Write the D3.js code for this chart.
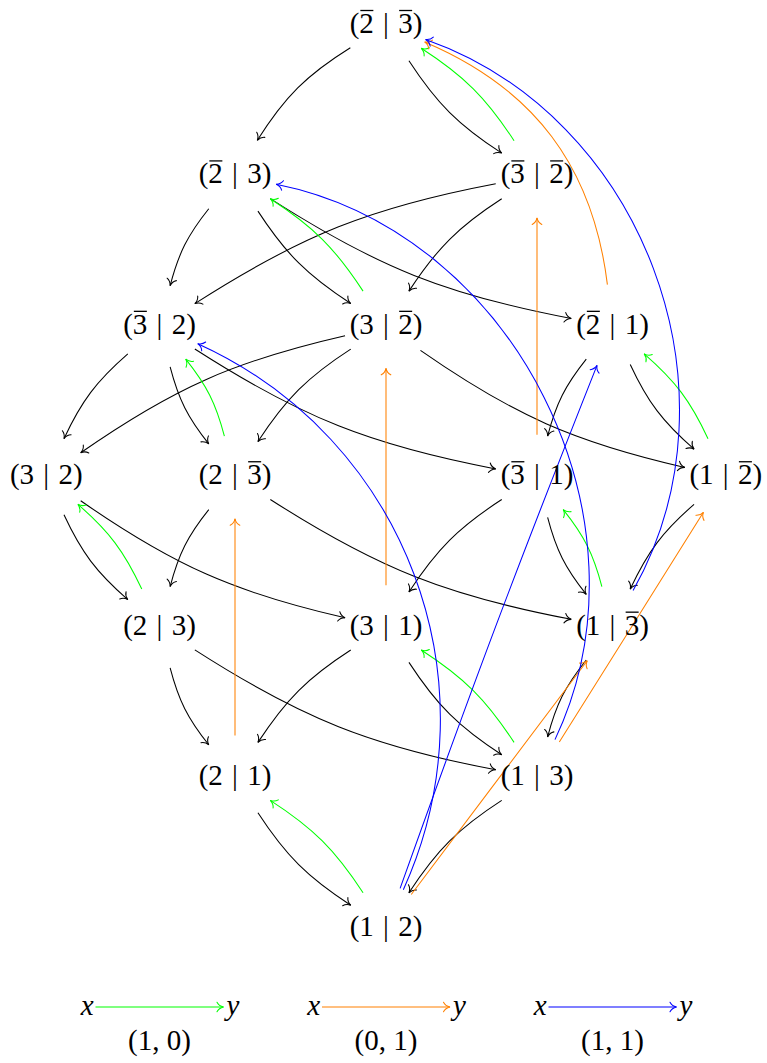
<!DOCTYPE html>
<html>
<head>
<meta charset="utf-8">
<script src="https://cdn.jsdelivr.net/npm/d3@7"></script>
<style>
  body { margin: 0; background: #fff; }
  text { font-family: "Liberation Serif", "DejaVu Serif", serif; }
</style>
</head>
<body>
<svg id="chart" width="767" height="1063"></svg>
<script>
// nodes of the lattice: label, column, row  (\u0304 = bar over the digit before it)
var nodeLabels = ["(2\u0304 | 3\u0304)", "(2\u0304 | 3)", "(3\u0304 | 2\u0304)", "(3\u0304 | 2)",
                  "(3 | 2\u0304)", "(2\u0304 | 1)", "(3 | 2)", "(2 | 3\u0304)", "(3\u0304 | 1)",
                  "(1 | 2\u0304)", "(2 | 3)", "(3 | 1)", "(1 | 3\u0304)", "(2 | 1)", "(1 | 3)", "(1 | 2)"];
var nodeCols = [0, -2, 2, -3, 0, 3, -4.5, -2, 2, 4.5, -3, 0, 3, -2, 2, 0];
var nodeRows = [0, 1, 1, 2, 2, 2, 3, 3, 3, 3, 4, 4, 4, 5, 5, 6];

// edges as [from, to, bend right (degrees)]
var blackEdges = [
  [0, 1, 13], [0, 2, 12], [2, 3, 11], [2, 4, 12], [1, 3, 12], [1, 4, 12], [1, 5, 11],
  [3, 6, 12], [3, 7, 12], [3, 8, 11], [4, 6, 11], [4, 7, 12], [4, 9, 11], [5, 8, 12],
  [5, 9, 12], [6, 10, 12], [6, 11, 11], [7, 10, 12], [7, 12, 11], [8, 11, 12], [8, 12, 12],
  [9, 12, 12], [10, 13, 12], [10, 14, 11], [11, 13, 12], [11, 14, 12], [12, 14, 12],
  [13, 15, 12], [14, 15, 12]
];
var greenEdges = [[2, 0, 12], [4, 1, 12], [7, 3, 12], [9, 5, 12], [10, 6, 12], [12, 8, 12], [14, 11, 12], [15, 13, 12]];
var orangeEdges = [[13, 7, 0], [11, 4, 0], [8, 2, 0], [5, 0, 30], [15, 12, 0], [14, 9, 0]];
var blueEdges = [[12, 0, 50], [14, 1, 52], [15, 3, 45], [15, 5, -1]];

// legend
var legendCols = [-3, 0, 3];
var legendColors = ["#00ff00", "#ff8000", "#0000ff"];
var legendLabels = ["(1, 0)", "(0, 1)", "(1, 1)"];

var svg = d3.select("#chart");
var x = d3.scaleLinear().domain([-5, 5]).range([386 - 5 * 75.5, 386 + 5 * 75.5]);
var y = d3.scaleLinear().domain([0, 6]).range([25.5, 928]);

var nodeR = 42;      // circle node radius
var fontSize = 29;

function arrowHead(g, px, py, ang, colour) {
  g.append("path")
    .attr("d", "M-6.5,-4.8 C-5.2,-2.2 -2.2,-0.5 0,0 C-2.2,0.5 -5.2,2.2 -6.5,4.8")
    .attr("transform", "translate(" + px + "," + py + ") rotate(" + (ang * 180 / Math.PI) + ")")
    .attr("fill", "none")
    .attr("stroke", colour)
    .attr("stroke-width", 1.05)
    .attr("stroke-linecap", "round");
}

function drawEdges(list, colour) {
  var g = svg.append("g");
  list.forEach(function(e) {
    var sx = x(nodeCols[e[0]]), sy = y(nodeRows[e[0]]);
    var tx = x(nodeCols[e[1]]), ty = y(nodeRows[e[1]]);
    var phi = Math.atan2(ty - sy, tx - sx);
    var b = e[2] * Math.PI / 180;
    var aOut = phi + b, aIn = phi + Math.PI - b;
    var s = [sx + nodeR * Math.cos(aOut), sy + nodeR * Math.sin(aOut)];
    var t = [tx + nodeR * Math.cos(aIn), ty + nodeR * Math.sin(aIn)];
    var L = Math.hypot(t[0] - s[0], t[1] - s[1]) * 0.3915;
    var c1 = [s[0] + L * Math.cos(aOut), s[1] + L * Math.sin(aOut)];
    var c2 = [t[0] + L * Math.cos(aIn), t[1] + L * Math.sin(aIn)];
    var p = d3.path();
    p.moveTo(s[0], s[1]);
    p.bezierCurveTo(c1[0], c1[1], c2[0], c2[1], t[0], t[1]);
    g.append("path")
      .attr("d", p.toString())
      .attr("fill", "none")
      .attr("stroke", colour)
      .attr("stroke-width", 1.05);
    arrowHead(g, t[0], t[1], Math.atan2(t[1] - c2[1], t[0] - c2[0]), colour);
  });
}

drawEdges(blackEdges, "#000");
drawEdges(greenEdges, "#00ff00");
drawEdges(orangeEdges, "#ff8000");
drawEdges(blueEdges, "#0000ff");

// node labels; the bar accents are drawn as short rules over the barred digits
var labelG = svg.append("g");
nodeLabels.forEach(function(lab, i) {
  var plain = "", barred = [];
  for (var k = 0; k < lab.length; k++) {
    if (lab[k] === "\u0304") barred.push(plain.length - 1);
    else plain += lab[k];
  }
  var base = y(nodeRows[i]) + 7.5;
  var t = labelG.append("text")
    .attr("x", x(nodeCols[i]))
    .attr("y", base)
    .attr("text-anchor", "middle")
    .attr("font-size", fontSize)
    .attr("word-spacing", 2)
    .attr("fill", "#000")
    .text(plain);
  barred.forEach(function(ci) {
    var r = t.node().getExtentOfChar(ci);
    labelG.append("line")
      .attr("x1", r.x + 1).attr("x2", r.x + r.width - 0.5)
      .attr("y1", base - 22.5).attr("y2", base - 22.5)
      .attr("stroke", "#000").attr("stroke-width", 1.3);
  });
});

// legend
var legY = 1007;
var lg = svg.append("g");
legendCols.forEach(function(c, i) {
  var cx = x(c);
  lg.append("line")
    .attr("x1", cx - 64).attr("x2", cx + 64)
    .attr("y1", legY).attr("y2", legY)
    .attr("stroke", legendColors[i]).attr("stroke-width", 1.05);
  arrowHead(lg, cx + 64, legY, 0, legendColors[i]);
  lg.append("text")
    .attr("x", cx - 66).attr("y", legY + 8)
    .attr("text-anchor", "end")
    .attr("font-size", fontSize).attr("font-style", "italic")
    .text("x");
  lg.append("text")
    .attr("x", cx + 67).attr("y", legY + 8)
    .attr("font-size", fontSize).attr("font-style", "italic")
    .text("y");
  lg.append("text")
    .attr("x", cx).attr("y", 1050)
    .attr("text-anchor", "middle")
    .attr("font-size", fontSize)
    .text(legendLabels[i]);
});
</script>
</body>
</html>
